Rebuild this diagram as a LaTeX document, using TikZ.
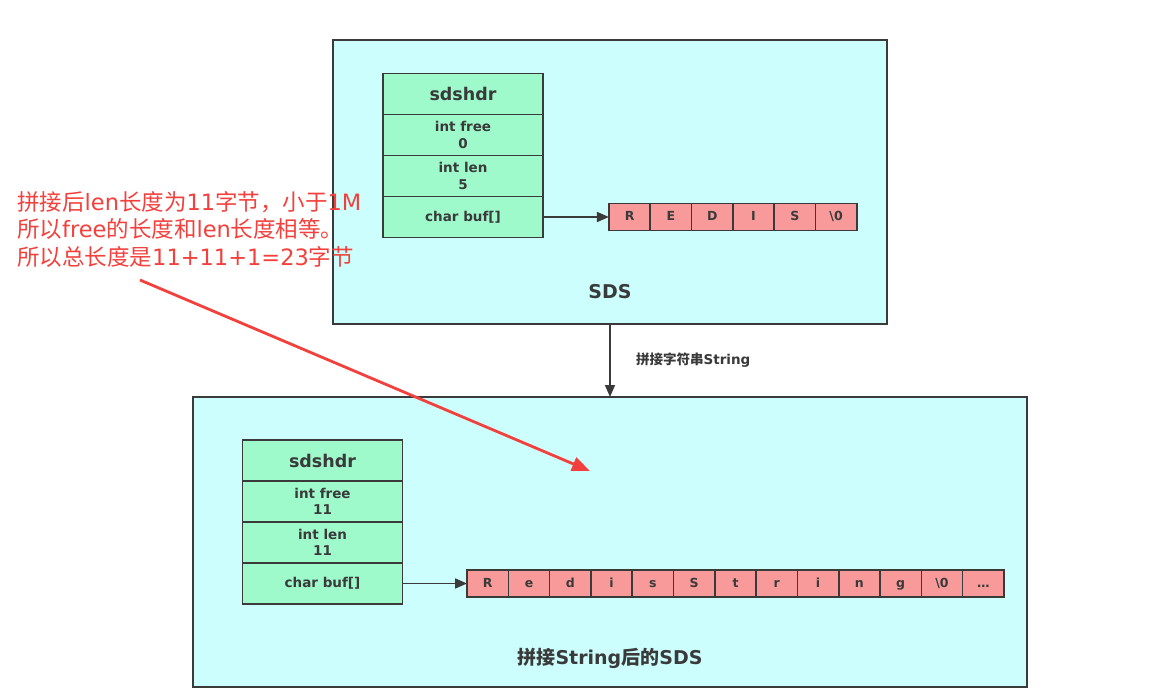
\documentclass[tikz,border=0pt]{standalone}
\usepackage{fontspec}
\setmainfont{DejaVu Sans}
\newfontfamily\cjk{Noto Sans CJK SC}
\usepackage{tikz}
\usetikzlibrary{arrows.meta, positioning}

\definecolor{sdsbg}{HTML}{CCFEFD}
\definecolor{hdrbg}{HTML}{9EFACB}
\definecolor{bufbg}{HTML}{F89A9A}
\definecolor{edge}{HTML}{3A3A3A}
\definecolor{note}{HTML}{F2403C}

\begin{document}
\begin{tikzpicture}[
  x=1pt, y=-1pt,
  sdsbox/.style={draw=edge, line width=1.6pt, fill=sdsbg},
  field/.style={draw=edge, line width=1.6pt, fill=hdrbg, outer sep=0pt, inner sep=0pt,
    minimum width=160pt, minimum height=41pt, align=center, text=edge,
    font=\fontsize{13.5}{16.5}\selectfont\bfseries},
  cell/.style={draw=edge, line width=1.6pt, fill=bufbg, outer sep=0pt, inner sep=0pt,
    minimum width=41.3pt, minimum height=27pt, text height=9.5pt, text depth=2.5pt, text=edge,
    font=\fontsize{12.5}{14}\selectfont\bfseries},
  title/.style={text=edge, font=\fontsize{19}{22}\selectfont\bfseries},
  arrow/.style={-{Triangle[length=12pt, width=10pt]}, line width=1.6pt, draw=edge}
]
\useasboundingbox (0,0) rectangle (1149,689);

% the two SDS frames
\node[sdsbox, minimum width=554pt, minimum height=284pt, outer sep=0pt] (sds) at (610,182) {};
\node[sdsbox, minimum width=834pt, minimum height=290pt, outer sep=0pt] (newsds) at (610,542) {};
\node[title] (sdslabel) at (610,292) {SDS};
\node[title] (newlabel) at (610,658) {{\cjk 拼接}String{\cjk 后的}SDS};

% sdshdr before append
\node[field, font=\fontsize{17.5}{19}\selectfont\bfseries] (hdr) at (463,94) {sdshdr};
\node[field, below=0pt of hdr] (free) {int free\\0};
\node[field, below=0pt of free] (len) {int len\\5};
\node[field, below=0pt of len] (buf) {char buf[]};

\node[cell] (c1) at (629.6,217) {R};
\foreach \ch [count=\i from 2, evaluate=\i as \j using int(\i-1)] in {E,D,I,S,\textbackslash 0}
  \node[cell, right=0pt of c\j] (c\i) {\ch};
\draw[arrow] (buf) -- (c1);

% append
\draw[arrow] (sds.south) -- node[right=22pt, text=edge, font=\fontsize{13.5}{15}\selectfont\bfseries] {{\cjk 拼接字符串}String} (newsds.north);

% sdshdr after append
\node[field, font=\fontsize{17.5}{19}\selectfont\bfseries] (nhdr) at (322.5,460.5) {sdshdr};
\node[field, below=0pt of nhdr] (nfree) {int free\\11};
\node[field, below=0pt of nfree] (nlen) {int len\\11};
\node[field, below=0pt of nlen] (nbuf) {char buf[]};

\node[cell] (n1) at (487.7,583.5) {R};
\foreach \ch [count=\i from 2, evaluate=\i as \j using int(\i-1)] in {e,d,i,s,S,t,r,i,n,g,\textbackslash 0,\dots}
  \node[cell, right=0pt of n\j] (n\i) {\ch};
\draw[arrow] (nbuf) -- (n1);

% red remark
\node[anchor=north west, align=left, text=note, inner sep=0pt,
  font=\fontsize{22.5}{27.5}\selectfont] (remark) at (17,191)
  {{\cjk 拼接后}len{\cjk 长度为}11{\cjk 字节，小于}1M\\
   {\cjk 所以}free{\cjk 的长度和}len{\cjk 长度相等。}\\
   {\cjk 所以总长度是}11+11+1=23{\cjk 字节}};
\coordinate (tail) at (140,280);
\coordinate (tip) at (590,471);
\draw[-{Triangle[length=18pt, width=14pt]}, line width=2.8pt, note] (tail) -- (tip);
\end{tikzpicture}
\end{document}
